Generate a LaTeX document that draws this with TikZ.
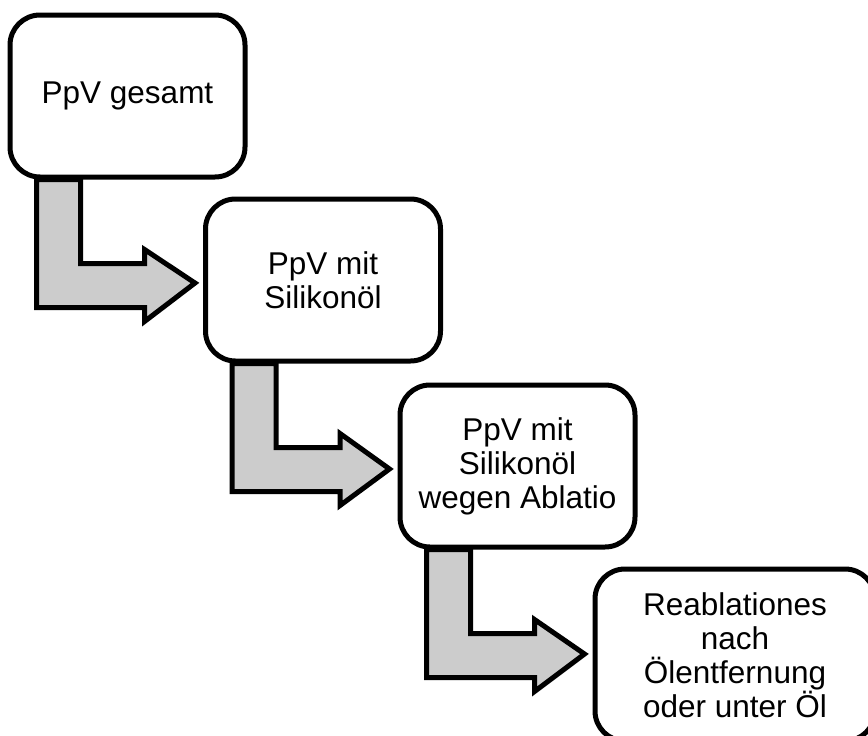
\documentclass[tikz,border=0pt]{standalone}
\usepackage{fontspec}
\setmainfont{Liberation Sans}
\usetikzlibrary{calc}

\begin{document}
\begin{tikzpicture}[x=1pt, y=-1pt]
			\tikzset{boite/.style={rectangle, rounded corners=30pt, draw=black, fill=white, line width=5pt, align=center, minimum width=235pt, minimum height=162pt, font=\fontsize{31.5pt}{34pt}\selectfont}, fleche/.style={draw=black, fill=black!20, line width=5pt, line join=miter}};

			\clip (0,0) rectangle (868,736);

			\node[boite] (b1) at (127.5,  96) {PpV gesamt};
			\node[boite] (b2) at (  323, 280) {PpV mit\\Silikonöl};
			\node[boite] (b3) at (517.5, 466) {PpV mit\\Silikonöl\\wegen Ablatio};
			\node[boite, minimum width=280pt, minimum height=172pt] (b4) at (735, 655) {Reablationes\\nach\\Ölentfernung\\oder unter Öl};

			\filldraw[fleche] ($(b1.south west)+(29,0)$) -- ++(0,128) -- ++(108,0) -- ++(0,14) -- ($(b2.west)+(-8,3)$) -- ($(b1.south west)+(137,70)$) -- ++(0,14) -- ++(-64,0) -- ++(0,-84) -- cycle;
			\filldraw[fleche] ($(b2.south west)+(29,0)$) -- ++(0,128) -- ++(108,0) -- ++(0,14) -- ($(b3.west)+(-8,3)$) -- ($(b2.south west)+(137,70)$) -- ++(0,14) -- ++(-64,0) -- ++(0,-84) -- cycle;
			\filldraw[fleche] ($(b3.south west)+(29,0)$) -- ++(0,128) -- ++(108,0) -- ++(0,14) -- ($(b4.west)+(-8,-1)$) -- ($(b3.south west)+(137,70)$) -- ++(0,14) -- ++(-64,0) -- ++(0,-84) -- cycle;

		\end{tikzpicture}
\end{document}
